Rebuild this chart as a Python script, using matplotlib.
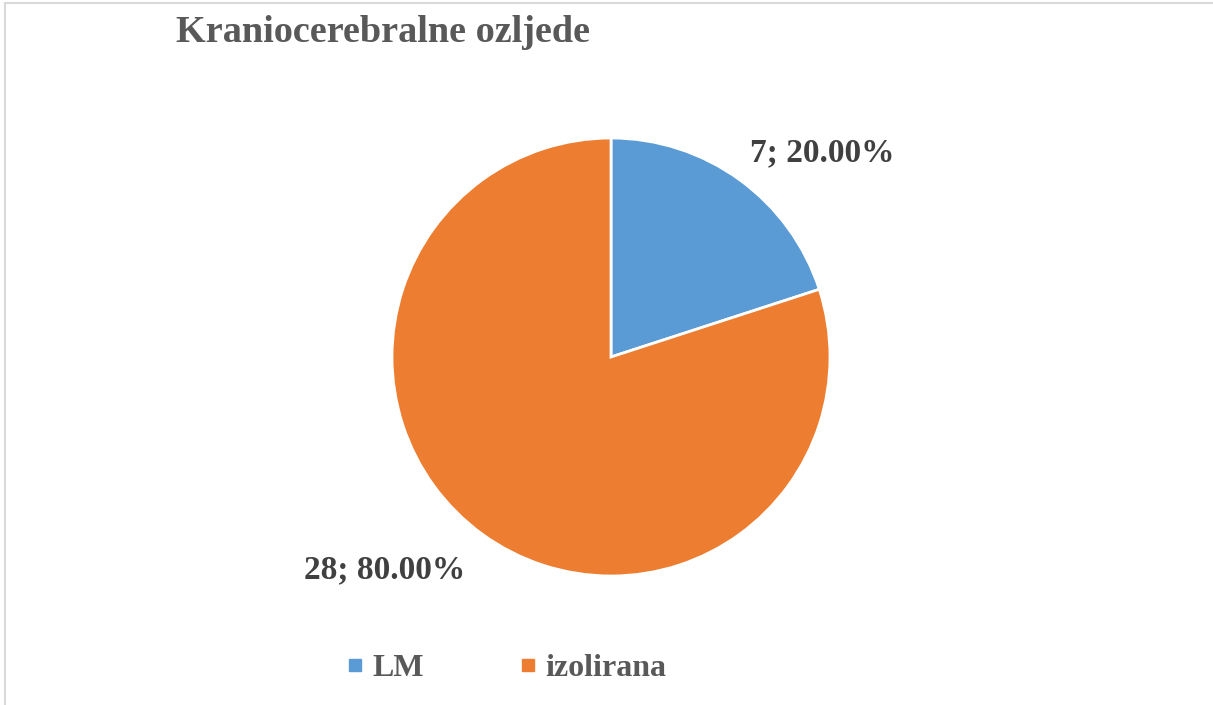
import matplotlib.pyplot as plt
from matplotlib.lines import Line2D

categories = ["LM", "izolirana"]
counts = [7, 28]
percents = [20.00, 80.00]
colors = ["#5B9BD5", "#ED7D31"]

plt.rcParams['font.family'] = ['Liberation Serif', 'DejaVu Serif']

fig = plt.figure(figsize=(12.13, 7.05), dpi=100)

# pie axes: centre ~ (611, 357) px, radius ~219 px
cx, cy, r = 611, 357, 219
W, H = 1213, 705
ax = fig.add_axes([(cx - r) / W, (H - cy - r) / H, 2 * r / W, 2 * r / H])
ax.pie(counts, colors=colors, startangle=90, counterclock=False,
       wedgeprops=dict(edgecolor='white', linewidth=2), radius=1)
ax.set_xlim(-1, 1)
ax.set_ylim(-1, 1)
ax.set_aspect('equal')
ax.axis('off')

# data labels (Excel "best fit" positions)
label_pos = [(1.0 + 211 / r, 1.0 + 204 / r), (1.0 - 226 / r, 1.0 - 213 / r)]
for (lx, ly), n, p in zip(label_pos, counts, percents):
    ax.text(lx / 2, ly / 2, f"{n}; {p:.2f}%", transform=ax.transAxes,
            ha='center', va='center', fontsize=24, fontweight='bold',
            color='#404040', clip_on=False)

fig.text(176 / W, 1 - 33 / H, "Kraniocerebralne ozljede", ha='left', va='center',
         fontsize=27.5, fontweight='bold', color='#595959')

handles = [Line2D([], [], marker='s', linestyle='none', markersize=8,
                  markerfacecolor=c, markeredgecolor=c) for c in colors]
leg = fig.legend(handles, categories, loc='center', ncol=2,
                 bbox_to_anchor=(508 / W, 1 - 668 / H), frameon=False,
                 prop=dict(size=23, weight='bold'), handlelength=0.35,
                 handletextpad=0.35, columnspacing=3.1)
for t in leg.get_texts():
    t.set_color('#595959')

# chart border (top and left edges visible)
fig.add_artist(Line2D([5 / W, 1], [1 - 3 / H, 1 - 3 / H], color='#D9D9D9', linewidth=1.5))
fig.add_artist(Line2D([5 / W, 5 / W], [0, 1 - 3 / H], color='#D9D9D9', linewidth=1.5))

fig.savefig("out.png", dpi=100)
